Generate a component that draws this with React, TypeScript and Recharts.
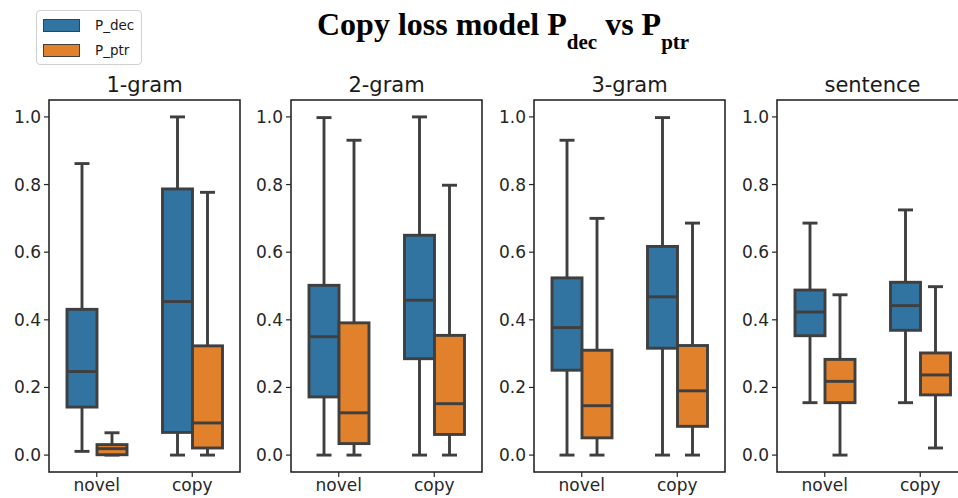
import React from 'react';
import { BarChart, Bar, XAxis, YAxis, ReferenceArea } from 'recharts';

// box stats per category: [min, q1, median, q3, max]
const categories = ['novel', 'copy'];
const panelTitles = ['1-gram', '2-gram', '3-gram', 'sentence'];
const seriesNames = ['P_dec', 'P_ptr'];
const yTicks = [0, 0.2, 0.4, 0.6, 0.8, 1.0];

const gram1Dec = [[0.011, 0.142, 0.247, 0.431, 0.862], [0, 0.067, 0.454, 0.787, 1.0]];
const gram1Ptr = [[0, 0.001, 0.019, 0.031, 0.066], [0, 0.021, 0.095, 0.323, 0.777]];
const gram2Dec = [[0, 0.172, 0.35, 0.502, 0.998], [0, 0.285, 0.458, 0.65, 1.0]];
const gram2Ptr = [[0, 0.034, 0.125, 0.391, 0.931], [0, 0.061, 0.152, 0.354, 0.798]];
const gram3Dec = [[0, 0.251, 0.377, 0.524, 0.931], [0, 0.316, 0.468, 0.617, 0.998]];
const gram3Ptr = [[0, 0.051, 0.146, 0.31, 0.7], [0, 0.085, 0.19, 0.324, 0.686]];
const sentDec = [[0.155, 0.353, 0.423, 0.488, 0.686], [0.155, 0.369, 0.442, 0.511, 0.725]];
const sentPtr = [[0, 0.155, 0.218, 0.283, 0.474], [0.021, 0.178, 0.237, 0.302, 0.498]];

const decByPanel = [gram1Dec, gram2Dec, gram3Dec, sentDec];
const ptrByPanel = [gram1Ptr, gram2Ptr, gram3Ptr, sentPtr];

const BLUE = '#3274a1';
const ORANGE = '#e1812c';
const LINE = '#3f3f3f';
const FONT = '"DejaVu Sans", sans-serif';

const W = 958;
const H = 498;
const plotLefts = [49, 291, 534, 777];
const PLOT_W = 191;
const Y_AXIS_W = 49;
const CHART_TOP = 70;

// whole box-and-whisker drawn from the [min, max] range bar
const BoxShape = (props: any) => {
  const { x, y, width, height, stats, fill } = props;
  if (!stats) return null;
  const [mn, q1, med, q3, mx] = stats;
  const top = Math.min(y, y + height);
  const bot = Math.max(y, y + height);
  const toPx = (v: number) => (mx === mn ? bot : bot - ((v - mn) / (mx - mn)) * (bot - top));
  const cx = x + width / 2;
  const capHalf = width / 4;
  const sw = 2.9;
  return (
    <g>
      <line x1={cx} x2={cx} y1={toPx(mx)} y2={toPx(q3)} stroke={LINE} strokeWidth={sw} />
      <line x1={cx} x2={cx} y1={toPx(q1)} y2={toPx(mn)} stroke={LINE} strokeWidth={sw} />
      <line x1={cx - capHalf} x2={cx + capHalf} y1={toPx(mx)} y2={toPx(mx)} stroke={LINE} strokeWidth={sw} />
      <line x1={cx - capHalf} x2={cx + capHalf} y1={toPx(mn)} y2={toPx(mn)} stroke={LINE} strokeWidth={sw} />
      <rect
        x={x}
        y={toPx(q3)}
        width={width}
        height={Math.max(toPx(q1) - toPx(q3), 0.5)}
        fill={fill}
        stroke={LINE}
        strokeWidth={sw}
      />
      <line x1={x} x2={x + width} y1={toPx(med)} y2={toPx(med)} stroke={LINE} strokeWidth={sw} />
    </g>
  );
};

const Panel = ({ idx }: { idx: number }) => {
  const data = categories.map((c, i) => ({
    cat: c,
    dec: decByPanel[idx][i],
    ptr: ptrByPanel[idx][i],
  }));
  const left = plotLefts[idx] - Y_AXIS_W;
  const center = plotLefts[idx] + PLOT_W / 2;

  return (
    <>
      <div
        style={{
          position: 'absolute',
          left: center - 100,
          width: 200,
          top: 72,
          textAlign: 'center',
          fontFamily: FONT,
          fontSize: 21,
          color: '#1a1a1a',
          lineHeight: '26px',
        }}
      >
        {panelTitles[idx]}
      </div>
      <div style={{ position: 'absolute', left, top: CHART_TOP }}>
        <BarChart
          width={Y_AXIS_W + PLOT_W + 2}
          height={H - CHART_TOP}
          data={data}
          margin={{ top: 30, right: 2, bottom: 0, left: 0 }}
          barGap={0}
          barSize={30}
        >
          <XAxis
            dataKey="cat"
            height={26}
            axisLine={false}
            tickLine={{ stroke: '#262626', strokeWidth: 1.2 }}
            tickSize={5}
            tickMargin={2}
            tick={{ fill: '#262626', fontSize: 17, fontFamily: FONT }}
          />
          <YAxis
            type="number"
            domain={[-0.05, 1.05]}
            ticks={yTicks}
            width={Y_AXIS_W}
            axisLine={false}
            tickLine={{ stroke: '#262626', strokeWidth: 1.2 }}
            tickSize={5}
            tickMargin={3}
            tickFormatter={(v: number) => v.toFixed(1)}
            tick={{ fill: '#262626', fontSize: 17, fontFamily: FONT }}
          />
          <ReferenceArea y1={-0.05} y2={1.05} fill="none" stroke="#1a1a1a" strokeWidth={1.5} />
          <Bar
            dataKey={(r: any) => [r.dec[0], r.dec[4]]}
            fill={BLUE}
            isAnimationActive={false}
            shape={(p: any) => <BoxShape {...p} stats={p.payload.dec} fill={BLUE} />}
          />
          <Bar
            dataKey={(r: any) => [r.ptr[0], r.ptr[4]]}
            fill={ORANGE}
            isAnimationActive={false}
            shape={(p: any) => <BoxShape {...p} stats={p.payload.ptr} fill={ORANGE} />}
          />
        </BarChart>
      </div>
    </>
  );
};

export default function App() {
  const legendColors = [BLUE, ORANGE];
  return (
    <div
      style={{
        position: 'absolute',
        left: 0,
        top: 0,
        width: W,
        height: H,
        overflow: 'hidden',
        background: '#fff',
      }}
    >
      {/* figure title */}
      <div
        style={{
          position: 'absolute',
          left: 317,
          top: 6,
          fontFamily: '"Liberation Serif", "Times New Roman", serif',
          fontWeight: 'bold',
          fontSize: 32,
          color: '#000',
          whiteSpace: 'nowrap',
          lineHeight: '36px',
        }}
      >
        Copy loss model P<sub style={{ fontSize: 21, verticalAlign: -14 }}>dec</sub> vs P
        <sub style={{ fontSize: 21, verticalAlign: -14 }}>ptr</sub>
      </div>

      {/* legend */}
      <div
        style={{
          position: 'absolute',
          left: 36,
          top: 10,
          width: 106,
          height: 55,
          border: '1px solid #d0d0d0',
          borderRadius: 4,
          boxSizing: 'border-box',
          fontFamily: FONT,
          fontSize: 13.5,
          color: '#1a1a1a',
        }}
      >
        {seriesNames.map((n, i) => (
          <div
            key={n}
            style={{ position: 'absolute', left: 6, top: 6 + i * 25, display: 'flex', alignItems: 'center' }}
          >
            <div
              style={{
                width: 37,
                height: 13,
                background: legendColors[i],
                border: `1px solid ${LINE}`,
                boxSizing: 'border-box',
              }}
            />
            <span style={{ marginLeft: 15 }}>{n}</span>
          </div>
        ))}
      </div>

      {panelTitles.map((_, i) => (
        <Panel key={i} idx={i} />
      ))}
    </div>
  );
}
